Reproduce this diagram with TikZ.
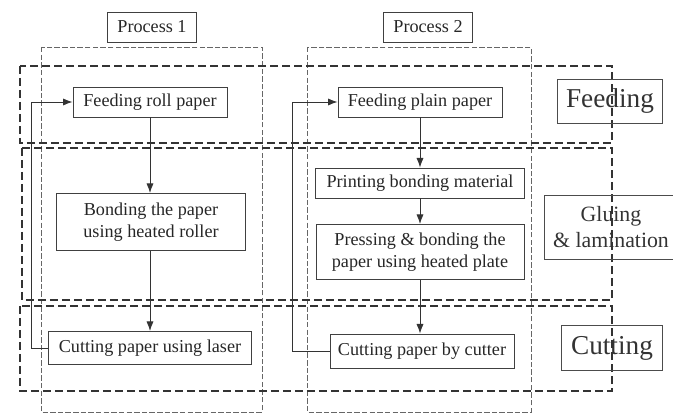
\documentclass[tikz,border=0pt]{standalone}
\usepackage{fontspec}
\setmainfont{Liberation Serif}
\usetikzlibrary{arrows.meta}

\begin{document}
\begin{tikzpicture}[
    x=0.55pt,y=-0.55pt,>=Latex,
    flow/.style={->,black!80,line width=0.5pt},
    stepbox/.style={draw=black!75,line width=0.5pt,inner sep=0pt,align=center,
      font=\fontsize{10}{12}\selectfont,text=black!85},
    headbox/.style={stepbox,minimum width=49pt,minimum height=16.5pt},
    stagebox/.style={draw=black!70,line width=0.5pt,inner sep=0pt,align=center,text=black!80},
    band/.style={black!80,line width=1.1pt,dash pattern=on 4.4pt off 2.2pt},
    column/.style={black!60,line width=0.4pt,dash pattern=on 3pt off 1.2pt}
  ]
    \useasboundingbox (0,0) rectangle (673,413);

    % Spalten der beiden Prozesse
    \draw[column] (41,47) rectangle (262,412);
    \draw[column] (307,47) rectangle (531,412);
    \node[headbox] (proc1) at (152,27) {Process 1};
    \node[headbox] (proc2) at (428,27) {Process 2};

    % Stufen
    \draw[band] (20,66) rectangle (612,143);
    \draw[band] (22,148) rectangle (612,300);
    \draw[band] (20,306) rectangle (612,391);
    \node[stagebox,minimum width=57.8pt,minimum height=24.2pt,
      font=\fontsize{15}{18}\selectfont] (feedstage) at (610,101) {Feeding};
    \node[stagebox,minimum width=73.7pt,minimum height=35.2pt,
      font=\fontsize{12}{14}\selectfont] (gluestage) at (611,227) {Gluing\\\& lamination};
    \node[stagebox,minimum width=55.6pt,minimum height=24.8pt,
      font=\fontsize{15}{18}\selectfont] (cutstage) at (612,348) {Cutting};

    % Process 1
    \node[stepbox,minimum width=84.7pt,minimum height=16.5pt] (roll) at (150,102) {Feeding roll paper};
    \node[stepbox,minimum width=104pt,minimum height=31.4pt] (bond) at (151,222)
      {Bonding the paper\\using heated roller};
    \node[stepbox,minimum width=111.7pt,minimum height=18.2pt] (laser) at (150,348)
      {Cutting paper using laser};
    \draw[flow] (roll.south) -- (roll.south |- bond.north);
    \draw[flow] (roll.south |- bond.south) -- (roll.south |- laser.north);
    \draw[flow] (laser.west) -- ++(-17,0) |- (roll.west);

    % Process 2
    \node[stepbox,minimum width=90.2pt,minimum height=16.5pt] (plain) at (420,102) {Feeding plain paper};
    \node[stepbox,minimum width=115pt,minimum height=16.5pt] (print) at (420,183)
      {Printing bonding material};
    \node[stepbox,minimum width=114.4pt,minimum height=30.3pt] (press) at (420,252)
      {Pressing \& bonding the\\paper using heated plate};
    \node[stepbox,minimum width=101.2pt,minimum height=18.7pt] (cutter) at (422,351)
      {Cutting paper by cutter};
    \draw[flow] (plain.south) -- (print.north);
    \draw[flow] (print.south) -- (press.north);
    \draw[flow] (press.south) -- (press.south |- cutter.north);
    \draw[flow] (cutter.west) -- ++(-37,0) |- (plain.west);
  \end{tikzpicture}
\end{document}
